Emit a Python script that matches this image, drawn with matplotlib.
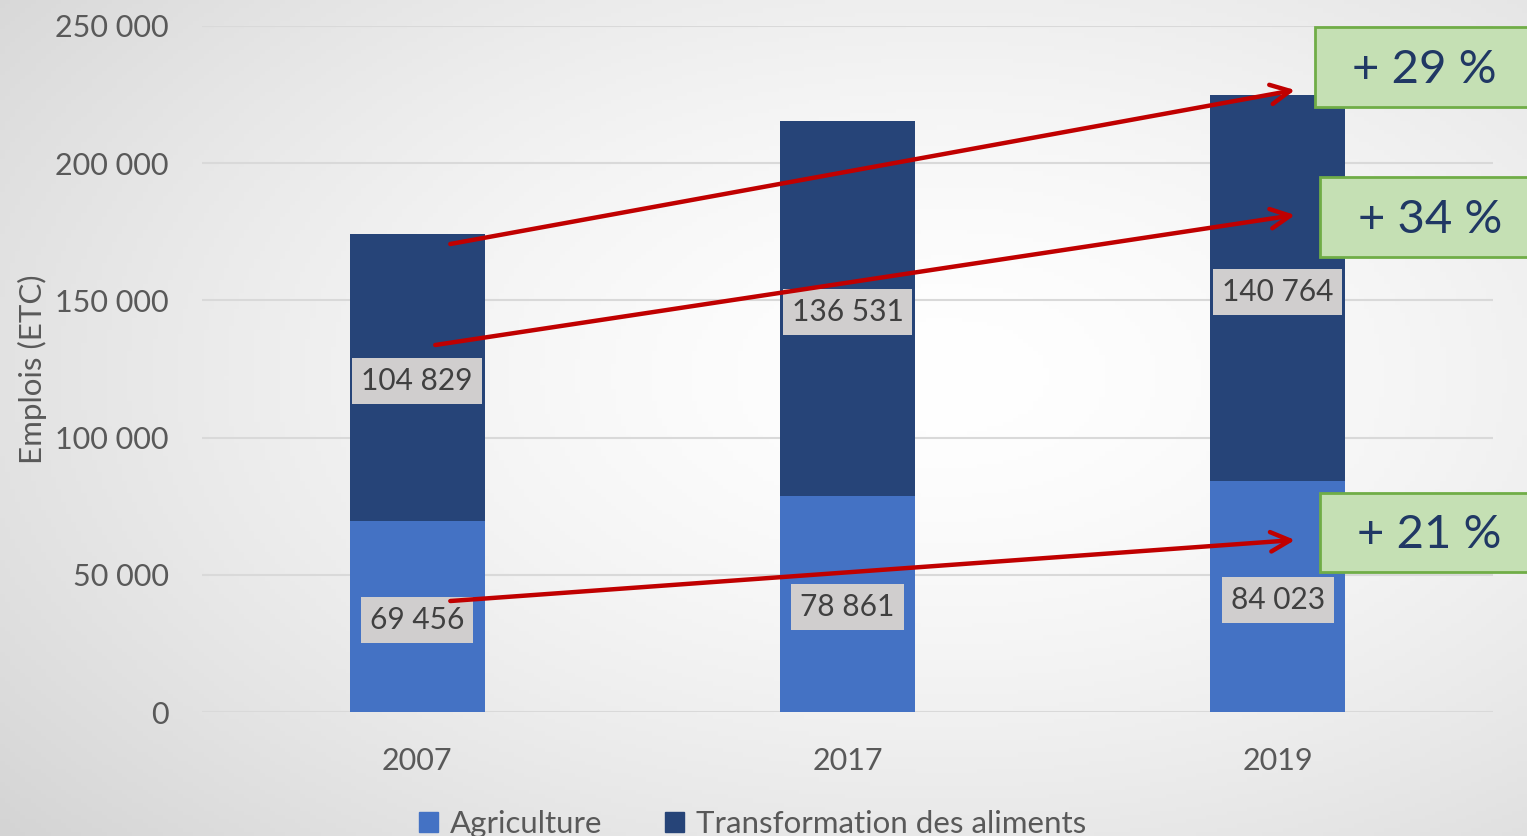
import numpy as np
import matplotlib
matplotlib.use("Agg")
import matplotlib.pyplot as plt
from matplotlib.patches import Rectangle, Patch
from matplotlib.ticker import FuncFormatter

plt.rcParams["font.family"] = ["Lato", "DejaVu Sans"]

years = ["2007", "2017", "2019"]
agriculture = [69456, 78861, 84023]
transformation = [104829, 136531, 140764]
growth_labels = ["+ 29 %", "+ 34 %", "+ 21 %"]

c_agri = "#4472C4"
c_trans = "#264478"
c_text = "#595959"


def fmt(v, _=None):
    return f"{int(v):,}".replace(",", " ")


fig = plt.figure(figsize=(15.27, 8.36), dpi=100)

# background gradient
bg = fig.add_axes([0, 0, 1, 1], zorder=-10)
yy, xx = np.mgrid[0:1:200j, 0:1:300j]
r = np.sqrt(((xx - 0.62) / 0.72) ** 2 + ((yy - 0.45) / 0.75) ** 2)
shade = 1.0 - 0.14 * np.clip(r, 0, 1.2) ** 1.5
bg.imshow(np.dstack([shade] * 3), extent=[0, 1, 0, 1], aspect="auto", origin="upper")
bg.axis("off")

ax = fig.add_axes([0.1323, 0.1483, 0.8454, 0.8206])
ax.patch.set_alpha(0)
x = np.arange(len(years))
w = 0.314
ax.bar(x, agriculture, w, color=c_agri, zorder=3, label="Agriculture")
ax.bar(x, transformation, w, bottom=agriculture, color=c_trans, zorder=3,
       label="Transformation des aliments")

ax.set_xlim(-0.5, 2.5)
ax.set_ylim(0, 250000)
ax.set_yticks(np.arange(0, 250001, 50000))
ax.yaxis.set_major_formatter(FuncFormatter(fmt))
ax.set_xticks(x)
ax.set_xticklabels(years)
ax.grid(axis="y", color="#D9D9D9", linewidth=1.5, zorder=0)
for s in ax.spines.values():
    s.set_visible(False)
ax.tick_params(length=0, labelsize=22, colors=c_text)
ax.tick_params(axis="y", pad=24)
ax.tick_params(axis="x", pad=25)
ax.set_ylabel("Emplois (ETC)", fontsize=22.5, color=c_text, labelpad=6)

box = dict(boxstyle="square,pad=0.3", fc="#D0CECE", ec="none")
off = -1300  # small downward nudge so labels sit like the original
for i in range(len(years)):
    ax.text(x[i], agriculture[i] / 2 + off, fmt(agriculture[i]), ha="center", va="center",
            fontsize=21.5, color="#404040", bbox=box, zorder=5)
    ax.text(x[i], agriculture[i] + transformation[i] / 2 + off, fmt(transformation[i]),
            ha="center", va="center", fontsize=21.5, color="#404040", bbox=box, zorder=5)

# arrows
arrows = [((0.077, 170554), (2.04, 226676)),
          ((0.042, 133746), (2.04, 181122)),
          ((0.077, 40452), (2.04, 62682))]
for (x0, y0), (x1, y1) in arrows:
    ax.annotate("", xy=(x1, y1), xytext=(x0, y0), zorder=6,
                arrowprops=dict(arrowstyle="->,head_length=1.4,head_width=0.7",
                                color="#C00000", lw=3.2, shrinkA=0, shrinkB=0))

# growth boxes
boxes = [(2.086, 220481, 249636), (2.098, 165816, 194971), (2.098, 51020, 79810)]
for (bx, b0, b1), lab in zip(boxes, growth_labels):
    ax.add_patch(Rectangle((bx, b0), 0.7, b1 - b0, fc="#C5E0B4", ec="#70AD47",
                           lw=2, clip_on=False, zorder=7))
    ax.text(bx + 0.255, (b0 + b1) / 2 - 1000, lab, ha="center", va="center", fontsize=34,
            color="#203864", zorder=8, clip_on=False)

handles = [Patch(color=c_agri, label="Agriculture"),
           Patch(color=c_trans, label="Transformation des aliments")]
fig.legend(handles=handles, loc="center", bbox_to_anchor=(0.493, 0.014), ncol=2,
           frameon=False, fontsize=22.5, handlelength=0.6, handleheight=0.6,
           handletextpad=0.4, columnspacing=2.0, labelcolor=c_text)

fig.savefig("out.png", dpi=100)
